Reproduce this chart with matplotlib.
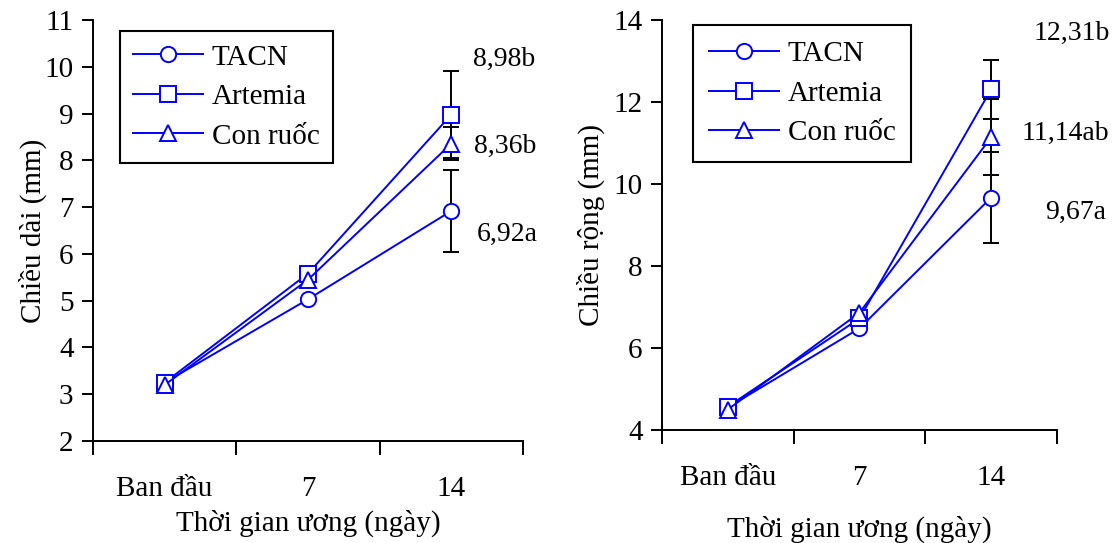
import numpy as np
import matplotlib
matplotlib.use("Agg")
import matplotlib.pyplot as plt

plt.rcParams['font.family'] = ['Liberation Serif', 'DejaVu Serif']
plt.rcParams['font.size'] = 21

categories = ["Ban đầu", "7", "14"]
series_names = ["TACN", "Artemia", "Con ruốc"]
markers = ["o", "s", "^"]

# chiều dài (mm)
length_vals = [[3.25, 5.03, 6.92],
               [3.25, 5.58, 8.98],
               [3.20, 5.45, 8.36]]
length_sd = [0.87, 0.92, 0.36]
length_labels = ["6,92a", "8,98b", "8,36b"]
length_label_y = [6.42, 10.16, 8.29]

# chiều rộng (mm)
width_vals = [[4.55, 6.48, 9.67],
              [4.57, 6.72, 12.31],
              [4.50, 6.86, 11.14]]
width_sd = [1.10, 0.72, 0.93]
width_labels = ["9,67a", "12,31b", "11,14ab"]
width_label_y = [9.30, 13.68, 11.24]

fig = plt.figure(figsize=(11.15, 5.43), dpi=100)
ax1 = fig.add_axes([0.0834, 0.1878, 0.3857, 0.7753])
ax2 = fig.add_axes([0.5937, 0.2081, 0.3543, 0.7551])

x = np.arange(len(categories)) + 0.5


def draw(ax, vals, sd, labels, label_y, label_x, ylim, yticks, ylabel,
         leg_pos, xlabelpad, ylabelpad, bpad):
    for i, name in enumerate(series_names):
        ax.plot(x, vals[i], color='blue', lw=1.4, marker=markers[i], ms=11,
                mfc='white', mec='blue', mew=1.4, label=name, zorder=3)
        ax.errorbar(x[-1], vals[i][-1], yerr=sd[i], color='black', lw=1.4,
                    capsize=6, capthick=1.4, zorder=2)
    for i in range(len(labels)):
        ax.text(label_x[i], label_y[i], labels[i], ha='left', va='center',
                fontsize=20)
    ax.set_xlim(0, 3)
    ax.set_ylim(*ylim)
    ax.set_yticks(yticks)
    ax.set_xticks([0, 1, 2, 3])
    ax.set_xticklabels([])
    ax.set_xticks(x, minor=True)
    ax.set_xticklabels(categories, minor=True)
    ax.tick_params(axis='x', which='major', direction='out', length=10, width=1.4)
    ax.tick_params(axis='x', which='minor', length=0, pad=25)
    ax.tick_params(axis='y', direction='out', length=8, width=1.4, pad=6)
    for s in ['top', 'right']:
        ax.spines[s].set_visible(False)
    for s in ['left', 'bottom']:
        ax.spines[s].set_linewidth(1.4)
    ax.set_xlabel("Thời gian ương (ngày)", labelpad=xlabelpad)
    ax.set_ylabel(ylabel, labelpad=ylabelpad)
    leg = ax.legend(loc='upper left', bbox_to_anchor=leg_pos, borderaxespad=0,
                    fancybox=False, edgecolor='black', framealpha=1,
                    handlelength=2.4, labelspacing=0.45, borderpad=bpad,
                    handletextpad=0.3)
    leg.get_frame().set_linewidth(1.5)


draw(ax1, length_vals, length_sd, length_labels, length_label_y,
     [2.68, 2.65, 2.66], (2, 11), range(2, 12), "Chiều dài (mm)",
     (0.063, 0.974), 6, -2, 0.45)
draw(ax2, width_vals, width_sd, width_labels, width_label_y,
     [2.91, 2.82, 2.73], (4, 14), range(4, 15, 2), "Chiều rộng (mm)",
     (0.078, 0.988), 18, 6, 0.55)

fig.savefig("out.png", dpi=100)
